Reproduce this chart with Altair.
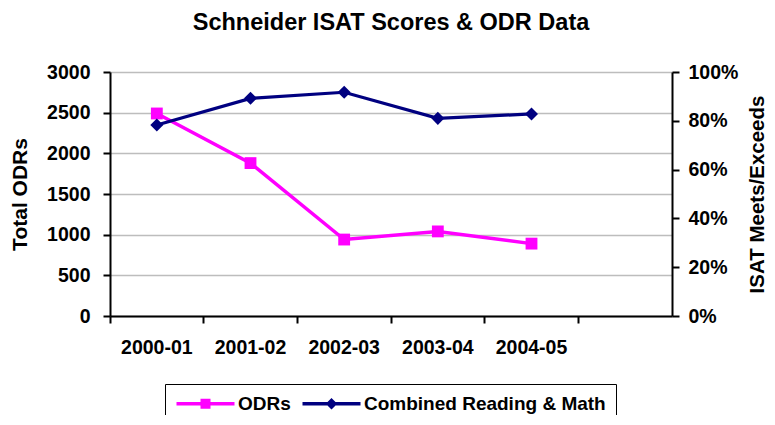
import altair as alt
import pandas as pd

# ---- data ----
years = ["2000-01", "2001-02", "2002-03", "2003-04", "2004-05"]
x_domain = years + [" "]
odrs = [2490, 1880, 940, 1040, 890]
isat = [0.783, 0.892, 0.917, 0.810, 0.828]
series_names = ["ODRs", "Combined Reading & Math"]
series_colors = ["#FF00FF", "#000080"]
left_ticks = [0, 500, 1000, 1500, 2000, 2500, 3000]
right_ticks = [0, 0.2, 0.4, 0.6, 0.8, 1.0]

df_odr = pd.DataFrame({"year": years, "value": odrs})
df_isat = pd.DataFrame({"year": years, "value": isat})
df_leg = pd.DataFrame({"series": series_names})

FONT = "Liberation Sans"
W, H = 562, 244

# legend symbols: line + marker (unit coordinates, scaled by sqrt(size)/2 = 5px)
sym_paths = [
    "M-1.6,-0.35H10V0.35H-1.6Z M3.2,-1H5.2V1H3.2Z",
    "M-1.6,-0.35H10V0.35H-1.6Z M4.2,-1.15L5.35,0L4.2,1.15L3.05,0Z",
]

x_enc = alt.X(
    "year:N",
    sort=x_domain,
    scale=alt.Scale(type="band", domain=x_domain, paddingInner=0, paddingOuter=0),
    axis=alt.Axis(
        title=None, bandPosition=0, labelAngle=0,
        tickSize=7, tickColor="black", tickWidth=2,
        domainColor="black", domainWidth=2, grid=False,
        labelPadding=15, labelFont=FONT, labelFontSize=19.5,
        labelFontWeight="bold", labelColor="black",
    ),
)

left = alt.Chart(df_odr).mark_line(
    strokeWidth=3.5, color=series_colors[0],
    point=alt.OverlayMarkDef(shape="square", size=140, filled=True, opacity=1,
                             color=series_colors[0]),
).encode(
    x=x_enc,
    y=alt.Y("value:Q", scale=alt.Scale(domain=[0, 3000]),
            axis=alt.Axis(
                title="Total ODRs", values=left_ticks, format="d",
                grid=True, gridColor="#bdbdbd", gridWidth=1.5,
                tickSize=7, tickColor="black", tickWidth=2,
                domainColor="black", domainWidth=2,
                labelPadding=13, labelFont=FONT, labelFontSize=19.5,
                labelFontWeight="bold", labelColor="black",
                titleFont=FONT, titleFontSize=21, titleFontWeight="bold",
                titleColor="black", titleX=-90, titleY=H / 2,
                titleAngle=270, titleBaseline="middle", titleAlign="center",
            )),
)

right = alt.Chart(df_isat).mark_line(
    strokeWidth=3.2, color=series_colors[1],
    point=alt.OverlayMarkDef(shape="diamond", size=170, filled=True, opacity=1,
                             color=series_colors[1]),
).encode(
    x=x_enc,
    y=alt.Y("value:Q", scale=alt.Scale(domain=[0, 1]),
            axis=alt.Axis(
                orient="right", title="ISAT Meets/Exceeds", values=right_ticks,
                format=".0%", grid=False,
                tickSize=7, tickColor="black", tickWidth=2,
                domainColor="black", domainWidth=2,
                labelPadding=9, labelFont=FONT, labelFontSize=19.5,
                labelFontWeight="bold", labelColor="black",
                titleFont=FONT, titleFontSize=20.5, titleFontWeight="bold",
                titleColor="black", titleX=85, titleY=H / 2,
                titleAngle=270, titleBaseline="middle", titleAlign="center",
            )),
)

legend_def = alt.Legend(
    title=None, orient="none", legendX=55, legendY=312,
    direction="horizontal", strokeColor="black", fillColor="white",
    padding=10, labelFont=FONT, labelFontSize=19, labelFontWeight="bold",
    labelColor="black", labelOffset=44, labelLimit=400, columnPadding=10,
    symbolSize=100, symbolOpacity=1, symbolStrokeWidth=0,
)

# legend-only layer (no marks drawn: all rows filtered out, domains explicit)
legend_layer = alt.Chart(df_leg).transform_filter("false").mark_point(
    filled=True, size=100, opacity=1
).encode(
    color=alt.Color("series:N", scale=alt.Scale(domain=series_names, range=series_colors),
                    legend=legend_def),
    shape=alt.Shape("series:N", scale=alt.Scale(domain=series_names, range=sym_paths),
                    legend=legend_def),
)

chart = alt.layer(left, right, legend_layer).resolve_scale(y="independent").properties(
    width=W, height=H,
    title=alt.Title("Schneider ISAT Scores & ODR Data", font=FONT, fontSize=23.5,
                    fontWeight="bold", color="black", anchor="middle", offset=28),
    autosize=alt.AutoSizeParams(type="none"),
    padding={"left": 102, "top": 64, "right": 95, "bottom": 99},
    background="white",
).configure_view(stroke=None)

chart.save("out.html", embed_options={"renderer": "svg", "actions": False})
